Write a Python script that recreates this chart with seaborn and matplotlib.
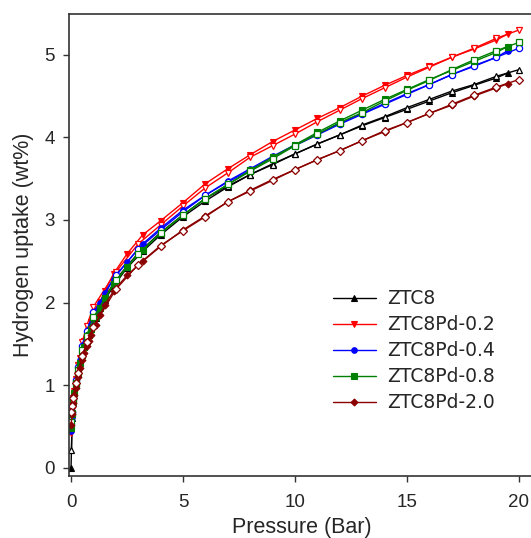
"""Hydrogen uptake isotherms, ZTC8 and Pd-doped samples (adsorption filled, desorption open)."""
import matplotlib
matplotlib.use("Agg")
import matplotlib.pyplot as plt
import seaborn as sns

sns.set_style("ticks")
plt.rcParams["font.family"] = ["Liberation Sans", "DejaVu Sans"]

# pressures (bar)
p_ads = [0.0, 0.05, 0.1, 0.15, 0.2, 0.3, 0.4, 0.5, 0.6, 0.7, 0.8, 0.9, 1.1, 1.3, 1.5,
         1.9, 2.5, 3.2, 4.0, 5.0, 6.0, 7.0, 8.0, 9.0, 10, 11, 12, 13, 14, 15, 16, 17,
         18, 19, 19.5]
p_des = [20, 19, 18, 17, 16, 15, 14, 13, 12, 11, 10, 9, 8, 7, 6, 5, 4, 3, 2, 1,
         0.7, 0.5, 0.3, 0.2, 0.1, 0.05, 0.02]

# uptake (wt%)
ztc8_ads = [0.0, 0.60, 0.78, 0.90, 1.00, 1.15, 1.27, 1.37, 1.46, 1.54, 1.61, 1.68, 1.81,
            1.93, 2.03, 2.20, 2.42, 2.62, 2.82, 3.04, 3.23, 3.40, 3.55, 3.68, 3.80, 3.92,
            4.03, 4.14, 4.24, 4.34, 4.44, 4.54, 4.63, 4.72, 4.78]
ztc8_des = [4.82, 4.74, 4.64, 4.56, 4.46, 4.36, 4.25, 4.15, 4.03, 3.92, 3.80, 3.67, 3.55,
            3.41, 3.26, 3.06, 2.85, 2.60, 2.28, 1.83, 1.62, 1.45, 1.20, 1.04, 0.82, 0.65, 0.22]

pd02_ads = [0.42, 0.62, 0.80, 0.93, 1.04, 1.20, 1.33, 1.44, 1.54, 1.62, 1.70, 1.77, 1.90,
            2.01, 2.14, 2.35, 2.59, 2.82, 2.99, 3.21, 3.44, 3.62, 3.79, 3.95, 4.09, 4.23,
            4.36, 4.50, 4.63, 4.75, 4.86, 4.97, 5.07, 5.18, 5.25]
pd02_des = [5.30, 5.20, 5.08, 4.97, 4.85, 4.73, 4.60, 4.47, 4.33, 4.19, 4.04, 3.90, 3.76,
            3.57, 3.39, 3.17, 2.94, 2.71, 2.37, 1.95, 1.72, 1.52, 1.25, 1.08, 0.85, 0.70, 0.64]

pd04_ads = [0.45, 0.62, 0.80, 0.92, 1.02, 1.18, 1.30, 1.41, 1.50, 1.58, 1.66, 1.73, 1.88,
            2.00, 2.12, 2.29, 2.49, 2.71, 2.90, 3.12, 3.30, 3.47, 3.62, 3.77, 3.91, 4.04,
            4.17, 4.29, 4.41, 4.53, 4.64, 4.76, 4.86, 4.97, 5.05]
pd04_des = [5.08, 4.97, 4.87, 4.76, 4.64, 4.52, 4.40, 4.28, 4.16, 4.03, 3.90, 3.76, 3.60,
            3.46, 3.30, 3.10, 2.88, 2.65, 2.33, 1.88, 1.66, 1.48, 1.22, 1.06, 0.84, 0.68, 0.58]

pd08_ads = [0.48, 0.65, 0.80, 0.91, 1.00, 1.15, 1.27, 1.37, 1.46, 1.54, 1.61, 1.68, 1.82,
            1.94, 2.05, 2.22, 2.43, 2.64, 2.84, 3.06, 3.26, 3.43, 3.60, 3.76, 3.91, 4.06,
            4.20, 4.33, 4.46, 4.58, 4.70, 4.81, 4.92, 5.03, 5.10]
pd08_des = [5.15, 5.05, 4.94, 4.82, 4.69, 4.57, 4.44, 4.30, 4.18, 4.04, 3.90, 3.74, 3.59,
            3.43, 3.26, 3.06, 2.84, 2.59, 2.27, 1.82, 1.60, 1.43, 1.18, 1.03, 0.82, 0.66, 0.55]

pd20_ads = [0.52, 0.65, 0.78, 0.88, 0.97, 1.10, 1.21, 1.31, 1.39, 1.47, 1.54, 1.61, 1.73,
            1.85, 1.97, 2.14, 2.33, 2.50, 2.68, 2.88, 3.05, 3.22, 3.36, 3.49, 3.61, 3.73,
            3.84, 3.96, 4.07, 4.18, 4.29, 4.39, 4.50, 4.60, 4.65]
pd20_des = [4.70, 4.61, 4.51, 4.40, 4.29, 4.18, 4.08, 3.96, 3.84, 3.73, 3.61, 3.48, 3.35,
            3.22, 3.04, 2.87, 2.69, 2.46, 2.16, 1.71, 1.52, 1.35, 1.15, 1.03, 0.85, 0.75, 0.68]

labels = ["ZTC8", "ZTC8Pd-0.2", "ZTC8Pd-0.4", "ZTC8Pd-0.8", "ZTC8Pd-2.0"]
ads = [ztc8_ads, pd02_ads, pd04_ads, pd08_ads, pd20_ads]
des = [ztc8_des, pd02_des, pd04_des, pd08_des, pd20_des]
colors = ["black", "#ff0000", "#0000ff", "#008000", "#8b0000"]
markers = ["^", "v", "o", "s", "D"]
msize = [4, 4.5, 4, 4, 3.5]

fig = plt.figure(figsize=(5.31, 5.38), dpi=100)
ax = fig.add_axes([0.130, 0.1152, 0.875, 0.8597])

for lab, ya, yd, c, m, ms in zip(labels, ads, des, colors, markers, msize):
    sns.lineplot(x=p_ads, y=ya, ax=ax, color=c, marker=m, markersize=ms,
                 markeredgecolor=c, markeredgewidth=0.8, linewidth=1,
                 sort=False, estimator=None, label=lab)
    sns.lineplot(x=p_des, y=yd, ax=ax, color=c, marker=m, markersize=ms + 0.5,
                 markerfacecolor="white", markeredgecolor=c, markeredgewidth=0.9,
                 linewidth=1, sort=False, estimator=None, label="_nolegend_")

ax.set_xlim(-0.09, 20.66)
ax.set_ylim(-0.1, 5.5)
ax.set_xticks([0, 5, 10, 15, 20])
ax.set_yticks([0, 1, 2, 3, 4, 5])
ax.tick_params(labelsize=13.5, length=4, width=1, color="#333333", pad=6)
ax.tick_params(axis="x", pad=9)
for s in ax.spines.values():
    s.set_color("#333333")
    s.set_linewidth(1.2)

ax.set_xlabel("Pressure (Bar)", fontsize=15.5, labelpad=4)
ax.set_ylabel("Hydrogen uptake (wt%)", fontsize=15.5, labelpad=8)

ax.legend(loc="upper left", bbox_to_anchor=(0.627, 0.462), bbox_transform=fig.transFigure,
          frameon=False, borderpad=0, borderaxespad=0, handlelength=2.3,
          handletextpad=0.6, labelspacing=0.37,
          prop={"family": "DejaVu Sans", "size": 13.5})

fig.savefig("out.png", dpi=100)
